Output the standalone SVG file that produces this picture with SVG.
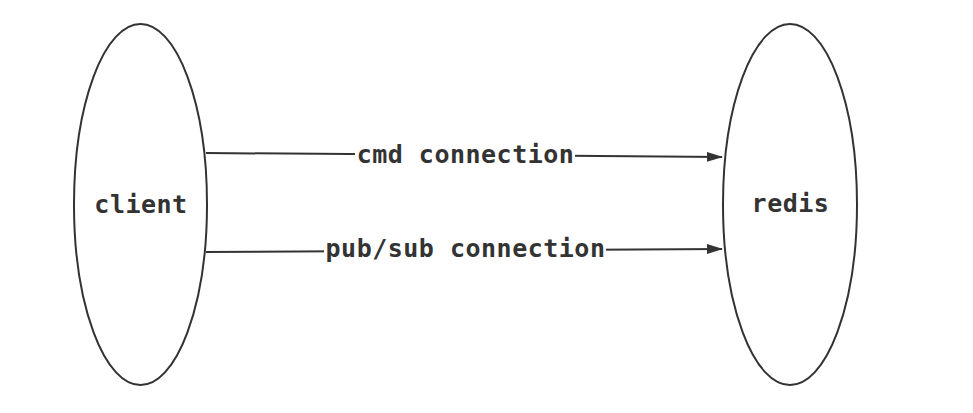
<svg xmlns="http://www.w3.org/2000/svg" width="973" height="413" viewBox="0 0 973 413">
<style>
.node{fill:#fff;stroke:#333;stroke-width:2}
.lbl{font-family:"DejaVu Sans Mono","Liberation Mono",monospace;font-weight:bold;font-size:25px;fill:#333;text-anchor:middle;letter-spacing:0.5px}
.edge{fill:none;stroke:#333;stroke-width:2}
.bg{fill:#fff}
</style>
<defs>
<marker id="arr" markerWidth="16" markerHeight="12" refX="15" refY="6" orient="auto" markerUnits="userSpaceOnUse">
<path d="M0,1 L16,6 L0,11 Z" fill="#333"/>
</marker>
</defs>
<rect width="973" height="413" fill="#fff"/>
<g id="client">
<ellipse class="node" cx="140.5" cy="204.5" rx="66.5" ry="180.5"/>
<text class="lbl" x="141" y="213">client</text>
</g>
<g id="redis">
<ellipse class="node" cx="790" cy="204.5" rx="67" ry="180.5"/>
<text class="lbl" x="790.5" y="212">redis</text>
</g>
<g id="connectors">
<path class="edge" d="M206,153 L722,157" marker-end="url(#arr)"/>
<rect class="bg" x="355" y="140" width="220" height="30"/>
<text class="lbl" x="465.5" y="163">cmd connection</text>
<path class="edge" d="M206,252 L722,249" marker-end="url(#arr)"/>
<rect class="bg" x="324" y="234" width="282" height="30"/>
<text class="lbl" x="465.5" y="257">pub/sub connection</text>
</g>
</svg>
